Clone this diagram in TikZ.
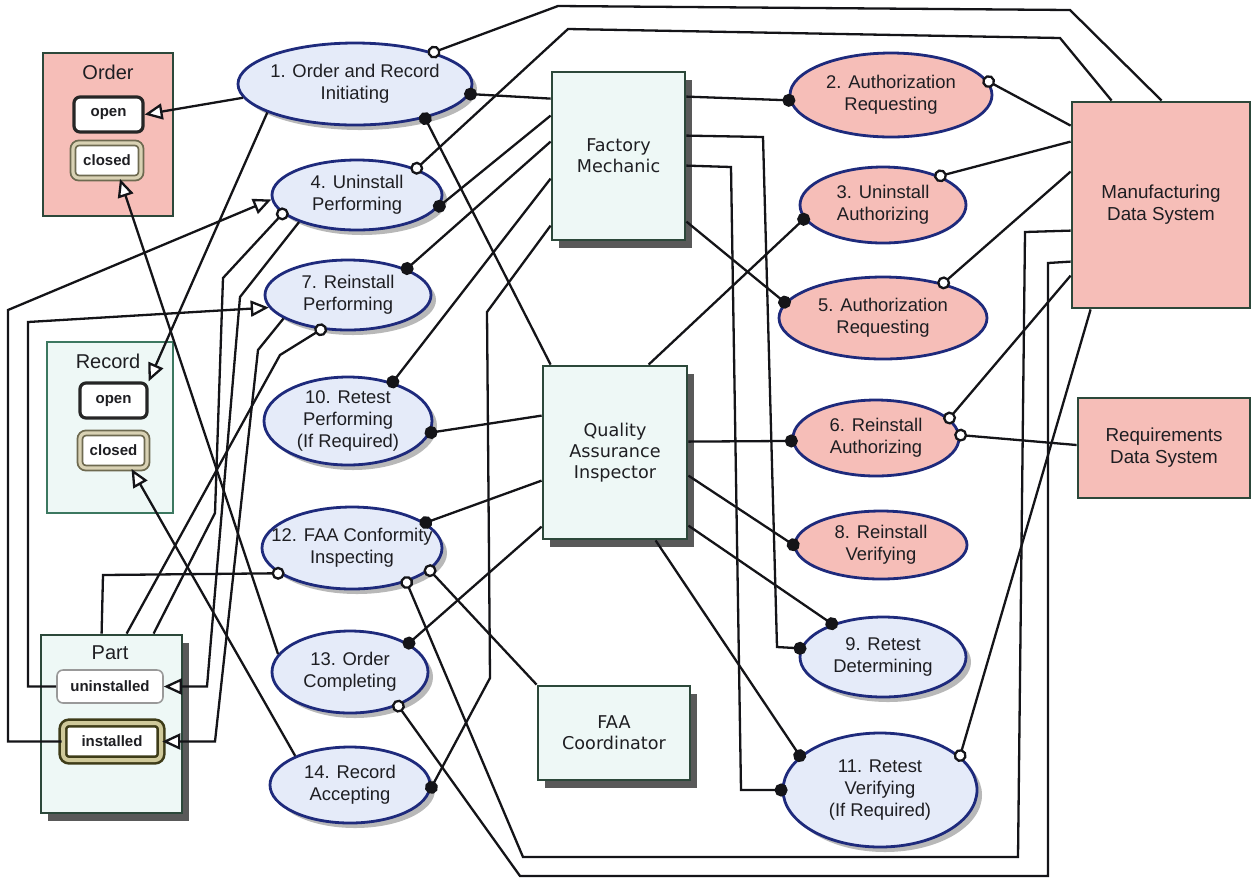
\documentclass[tikz,border=0pt]{standalone}
\usepackage{fontspec}
\setmainfont{Liberation Sans}
\newfontfamily\verd{DejaVu Sans}
\usetikzlibrary{shapes.geometric,arrows.meta,calc,shadows}

\definecolor{pinkfill}{RGB}{246,190,184}
\definecolor{boxline}{RGB}{44,72,58}
\definecolor{recline}{RGB}{60,120,96}
\definecolor{lightbox}{RGB}{238,248,246}
\definecolor{ovalblue}{RGB}{229,235,249}
\definecolor{ovalline}{RGB}{30,42,124}
\definecolor{linec}{RGB}{20,20,24}
\definecolor{txt}{RGB}{30,30,34}
\definecolor{finline}{RGB}{110,106,80}
\definecolor{finfill}{RGB}{217,210,180}
\definecolor{instline}{RGB}{62,60,24}
\definecolor{instfill}{RGB}{207,201,154}

\newcommand\ovalfont{\fontsize{9.2}{11}\selectfont}
\newcommand\boxfont{\verd\fontsize{8.8}{10.5}\selectfont}
\newcommand\sysfont{\fontsize{9.4}{11}\selectfont}
\newcommand\statefont{\bfseries\fontsize{7.5}{9}\selectfont}
\newcommand\titlefont{\fontsize{10}{12}\selectfont}

\begin{document}
\begin{tikzpicture}[x=0.5pt,y=-0.5pt,
  proc/.style={ellipse, draw=ovalline, line width=1.4pt, inner sep=0pt},
  bluep/.style={proc, fill=ovalblue,
     drop shadow={shadow xshift=2.5pt, shadow yshift=-2.5pt, fill=black, opacity=0.28}},
  pinkp/.style={proc, fill=pinkfill},
  ptext/.style={font=\ovalfont, align=center, text=txt, inner sep=0pt},
  obj/.style={rectangle, draw=boxline, line width=1.4pt, inner sep=0pt, align=center, text=txt},
  agentbox/.style={obj, fill=lightbox, font=\boxfont,
     drop shadow={shadow xshift=3.5pt, shadow yshift=-4pt, fill=black!65, opacity=1}},
  sysbox/.style={obj, fill=pinkfill, font=\sysfont},
  boxtitle/.style={font=\titlefont, text=txt, inner sep=0pt},
  statebox/.style={rectangle, rounded corners=3pt, fill=white, font=\statefont,
     inner sep=0pt, text=txt},
  initstate/.style={statebox, draw=black!85, line width=1.6pt},
  finstate/.style={statebox, draw=finline, double=finfill, double distance=1.6pt, line width=0.9pt},
  plainstate/.style={statebox, draw=gray!80, line width=0.8pt},
  conn/.style={line width=1.15pt, draw=linec},
  agentlink/.style={conn, -{Circle[length=6.5pt]}, shorten >=-3pt},
  instlink/.style={conn, -{Circle[open,length=6.5pt,fill=white]}, shorten >=-3pt},
  reslink/.style={conn, -{Triangle[open,length=9pt,width=8pt,fill=white]}},
]
\fill[white] (0,0) rectangle (1252,880);
\useasboundingbox (0,0) rectangle (1252,880);

% ---------- objects with states ----------
\node[obj, fill=pinkfill, minimum width=65pt, minimum height=81.5pt] (order) at (108,134.5) {};
\node[boxtitle] (ordertitle) at (108,72) {Order};
\node[initstate, minimum width=34.5pt, minimum height=17.5pt] (ordopen) at (108.5,114.5) {open};
\node[finstate, minimum width=34pt, minimum height=17.5pt] (ordclosed) at (107,160.5) {closed};

\node[obj, draw=recline, fill=lightbox, minimum width=63pt, minimum height=85.5pt] (record) at (110,427.5) {};
\node[boxtitle] (recordtitle) at (108,361) {Record};
\node[initstate, minimum width=33.5pt, minimum height=17.5pt] (recopen) at (113.5,400.5) {open};
\node[finstate, minimum width=33.5pt, minimum height=17.5pt] (recclosed) at (113.5,450.5) {closed};

\node[agentbox, fill=lightbox, minimum width=70.5pt, minimum height=89pt] (part) at (111.5,724) {};
\node[boxtitle] (parttitle) at (110,653) {Part};
\node[plainstate, minimum width=53pt, minimum height=16.5pt] (uninst) at (110,686.5) {uninstalled};
\node[statebox, draw=instline, double=instfill, double distance=2pt, line width=1.3pt,
      minimum width=49pt, minimum height=18.5pt] (inst) at (112,741.5) {installed};

% ---------- agents and systems ----------
\node[agentbox, minimum width=66.5pt, minimum height=84pt] (fm) at (618.5,156) {Factory\\Mechanic};
\node[agentbox, minimum width=72pt, minimum height=86.5pt] (qai) at (615,452.5) {Quality\\Assurance\\Inspector};
\node[agentbox, minimum width=76pt, minimum height=47pt] (faa) at (614,733) {FAA\\Coordinator};
\node[sysbox, minimum width=89pt, minimum height=103pt] (mds) at (1161,205) {Manufacturing\\Data System};
\node[sysbox, minimum width=86pt, minimum height=50pt] (rds) at (1164,448) {Requirements\\Data System};

% ---------- processes ----------
\node[bluep, minimum width=117pt, minimum height=41pt,
      label={[ptext]center:{1. Order and Record\\Initiating}}] (o1) at (355,84) {};
\node[bluep, minimum width=85pt, minimum height=35pt,
      label={[ptext]center:{4. Uninstall\\Performing}}] (o4) at (357,195) {};
\node[bluep, minimum width=83pt, minimum height=35pt,
      label={[ptext]center:{7. Reinstall\\Performing}}] (o7) at (348,295) {};
\node[bluep, minimum width=84pt, minimum height=44pt,
      label={[ptext]center:{10. Retest\\Performing\\(If Required)}}] (o10) at (348,421) {};
\node[bluep, minimum width=90pt, minimum height=41pt,
      label={[ptext]center:{12. FAA Conformity\\Inspecting}}] (o12) at (352,548) {};
\node[bluep, minimum width=78pt, minimum height=41pt,
      label={[ptext]center:{13. Order\\Completing}}] (o13) at (350,672) {};
\node[bluep, minimum width=80pt, minimum height=38pt,
      label={[ptext]center:{14. Record\\Accepting}}] (o14) at (350,785) {};

\node[pinkp, minimum width=101pt, minimum height=42pt,
      label={[ptext]center:{2. Authorization\\Requesting}}] (o2) at (891,95) {};
\node[pinkp, minimum width=83pt, minimum height=38pt,
      label={[ptext]center:{3. Uninstall\\Authorizing}}] (o3) at (883,205) {};
\node[pinkp, minimum width=104pt, minimum height=41pt,
      label={[ptext]center:{5. Authorization\\Requesting}}] (o5) at (883,318) {};
\node[pinkp, minimum width=83pt, minimum height=38pt,
      label={[ptext]center:{6. Reinstall\\Authorizing}}] (o6) at (876,438) {};
\node[pinkp, minimum width=86pt, minimum height=34pt,
      label={[ptext]center:{8. Reinstall\\Verifying}}] (o8) at (881,545) {};
\node[bluep, minimum width=83pt, minimum height=40pt,
      label={[ptext]center:{9. Retest\\Determining}}] (o9) at (883,657) {};
\node[bluep, minimum width=97pt, minimum height=57pt,
      label={[ptext]center:{11. Retest\\Verifying\\(If Required)}}] (o11) at (880,790) {};

% ---------- instrument links ----------
\draw[instlink] ($(mds.north west)+(91,0)$) -- (1070,10) -- (558,6) -- (o1.22);
\draw[instlink] ($(mds.north west)+(41,0)$) -- (1060,38) -- (568,29) -- (o4.24);
\draw[instlink] ($(mds.north west)+(0,25)$) -- (o2.8);
\draw[instlink] ($(mds.north west)+(0,41)$) -- (o3.27);
\draw[instlink] ($(mds.north west)+(0,71)$) -- (o5.30);
\draw[instlink] ($(mds.north west)+(0,175)$) -- (o6.15);
\draw[instlink] ($(rds.west)+(0,-3)$) -- (o6.2);
\draw[instlink] ($(mds.south west)+(20,0)$) -- (o11.23);
\draw[instlink] ($(mds.north west)+(0,130)$) -- (1025,232) -- (1018,857) -- (523,857) -- (o12.-32);
\draw[instlink] ($(mds.north west)+(0,161)$) -- (1048,263) -- (1048,876) -- (520,876) -- (o13.-35);
\draw[instlink] (faa.north west) -- (o12.-16);
\draw[instlink] ($(part.north west)+(62,0)$) -- (103,575) -- (o12.199);
\draw[instlink] ($(part.north west)+(87,0)$) -- (280,355) -- (o7.232);
\draw[instlink] ($(part.north west)+(114,0)$) -- (215,513) -- (223,278) -- (o4.194);

% ---------- agent links ----------
\draw[agentlink] ($(fm.north west)+(0,28)$) -- (o1.-5);
\draw[agentlink] ($(qai.north west)+(9,0)$) -- (o1.-26);
\draw[agentlink] ($(fm.north west)+(0,45)$) -- (o4.-8);
\draw[agentlink] ($(fm.north west)+(0,71)$) -- (o7.24);
\draw[agentlink] ($(fm.north west)+(0,108)$) -- (o10.41);
\draw[agentlink] ($(fm.north west)+(0,155)$) -- (487,312) -- (490,678) -- (o14.-2);
\draw[agentlink] ($(fm.north east)+(0,26)$) -- (o2.183);
\draw[agentlink] ($(fm.north east)+(0,65)$) -- (763,137) -- (777,647) -- (o9.174);
\draw[agentlink] ($(fm.north east)+(0,95)$) -- (731,167) -- (741,790) -- (o11.180);
\draw[agentlink] ($(fm.north east)+(0,151)$) -- (o5.171);
\draw[agentlink] ($(qai.north west)+(107,0)$) -- (o3.190);
\draw[agentlink] ($(qai.north west)+(0,51)$) -- (o10.-8);
\draw[agentlink] ($(qai.north west)+(0,116)$) -- (o12.19);
\draw[agentlink] ($(qai.north west)+(0,162)$) -- (o13.26);
\draw[agentlink] ($(qai.north east)+(0,77)$) -- (o6.182);
\draw[agentlink] ($(qai.north east)+(0,111)$) -- (o8.180);
\draw[agentlink] ($(qai.north east)+(0,161)$) -- (o9.147);
\draw[agentlink] ($(qai.south west)+(114,0)$) -- (o11.157);

% ---------- result and consumption links ----------
\draw[reslink] (o1.187) -- (ordopen.east);
\draw[reslink] (o1.198) -- (recopen.north east);
\draw[reslink] (o4.205) -- (240,297) -- (207,686.5) -- (uninst.east);
\draw[reslink] (o7.200) -- (258,350) -- (215,741.5) -- (inst.east);
\draw[reslink] (inst.west) -- (8,741.5) -- (8,310) -- (o4.183);
\draw[reslink] (uninst.west) -- (28,686.5) -- (28,322) -- (o7.189);
\draw[reslink] (o13.166) -- ($(ordclosed.south)+(13,0)$);
\draw[reslink] (o14.152) -- ($(recclosed.south)+(18,0)$);
\end{tikzpicture}
\end{document}
